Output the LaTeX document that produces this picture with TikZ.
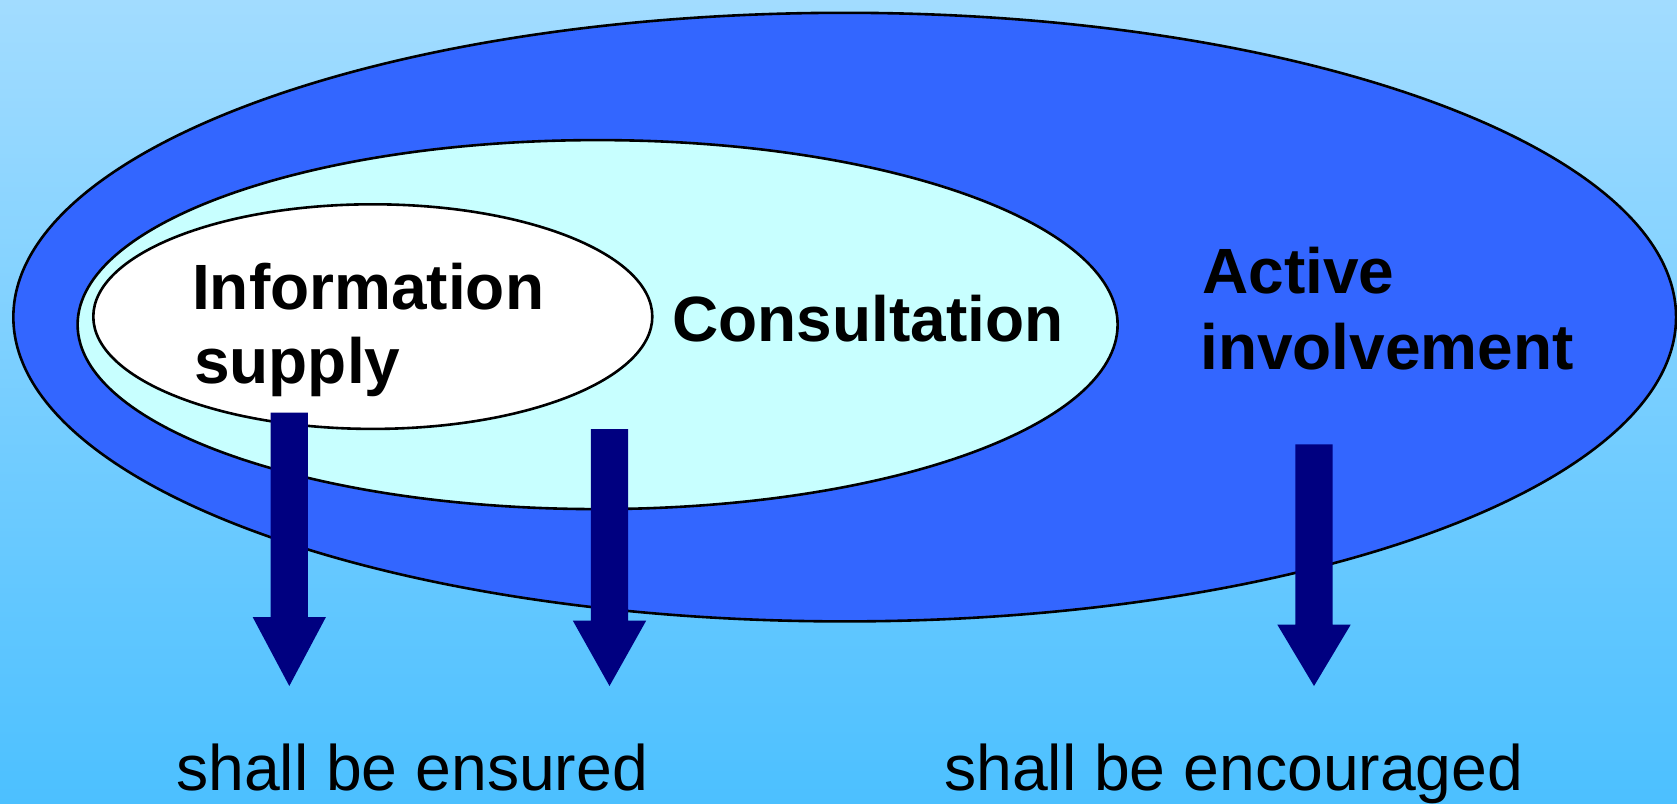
\documentclass[tikz,border=0pt]{standalone}
\usepackage{fontspec}
\setmainfont{Liberation Sans}
\usetikzlibrary{shapes.geometric}
\definecolor{bgtop}{HTML}{A2DCFF}
\definecolor{bgbot}{HTML}{4CC0FF}
\definecolor{outerfill}{HTML}{3366FF}
\definecolor{midfill}{HTML}{C8FFFF}
\definecolor{arrowfill}{HTML}{000080}
\newcommand{\DownBlockArrow}[3]{%
  \fill[arrowfill] (#1-18.65,#2) -- (#1+18.65,#2) -- (#1+18.65,#3) -- (#1+36.65,#3)
    -- (#1,686) -- (#1-36.65,#3) -- (#1-18.65,#3) -- cycle;}
\begin{document}
\begin{tikzpicture}[x=1pt,y=-1pt,
  ring/.style={ellipse, draw=black, line width=2.6pt, inner sep=0pt},
  bigbold/.style={font=\fontsize{64}{76}\selectfont\bfseries, inner sep=0pt, anchor=base west},
  plain/.style={font=\fontsize{64.3}{76}\selectfont, inner sep=0pt, anchor=base west}]
\useasboundingbox (0,0) rectangle (1677,803);
\shade[top color=bgtop, bottom color=bgbot] (0,0) rectangle (1677,803);
\node[ring, fill=outerfill, minimum width=1662.7pt, minimum height=608.6pt] (outer) at (844.7,317.1) {};
\node[ring, fill=midfill, minimum width=1040pt, minimum height=369pt] (mid) at (597.6,324.6) {};
\node[ring, fill=white, minimum width=559pt, minimum height=224.6pt] (inner) at (372.8,316.6) {};
\node[bigbold] (info1) at (192,309.3) {Information};
\node[bigbold] (info2) at (194,383.5) {supply};
\node[bigbold] (cons) at (672,341.7) {Consultation};
\node[bigbold] (act1) at (1202,293.3) {Active};
\node[bigbold] (act2) at (1200,369.3) {involvement};
\DownBlockArrow{289.3}{412.7}{617}
\DownBlockArrow{609.5}{429}{620.7}
\DownBlockArrow{1314}{444.3}{624.7}
\node[plain] (ens) at (176,790.7) {shall be ensured};
\node[plain] (enc) at (944,790.7) {shall be encouraged};
\end{tikzpicture}
\end{document}
